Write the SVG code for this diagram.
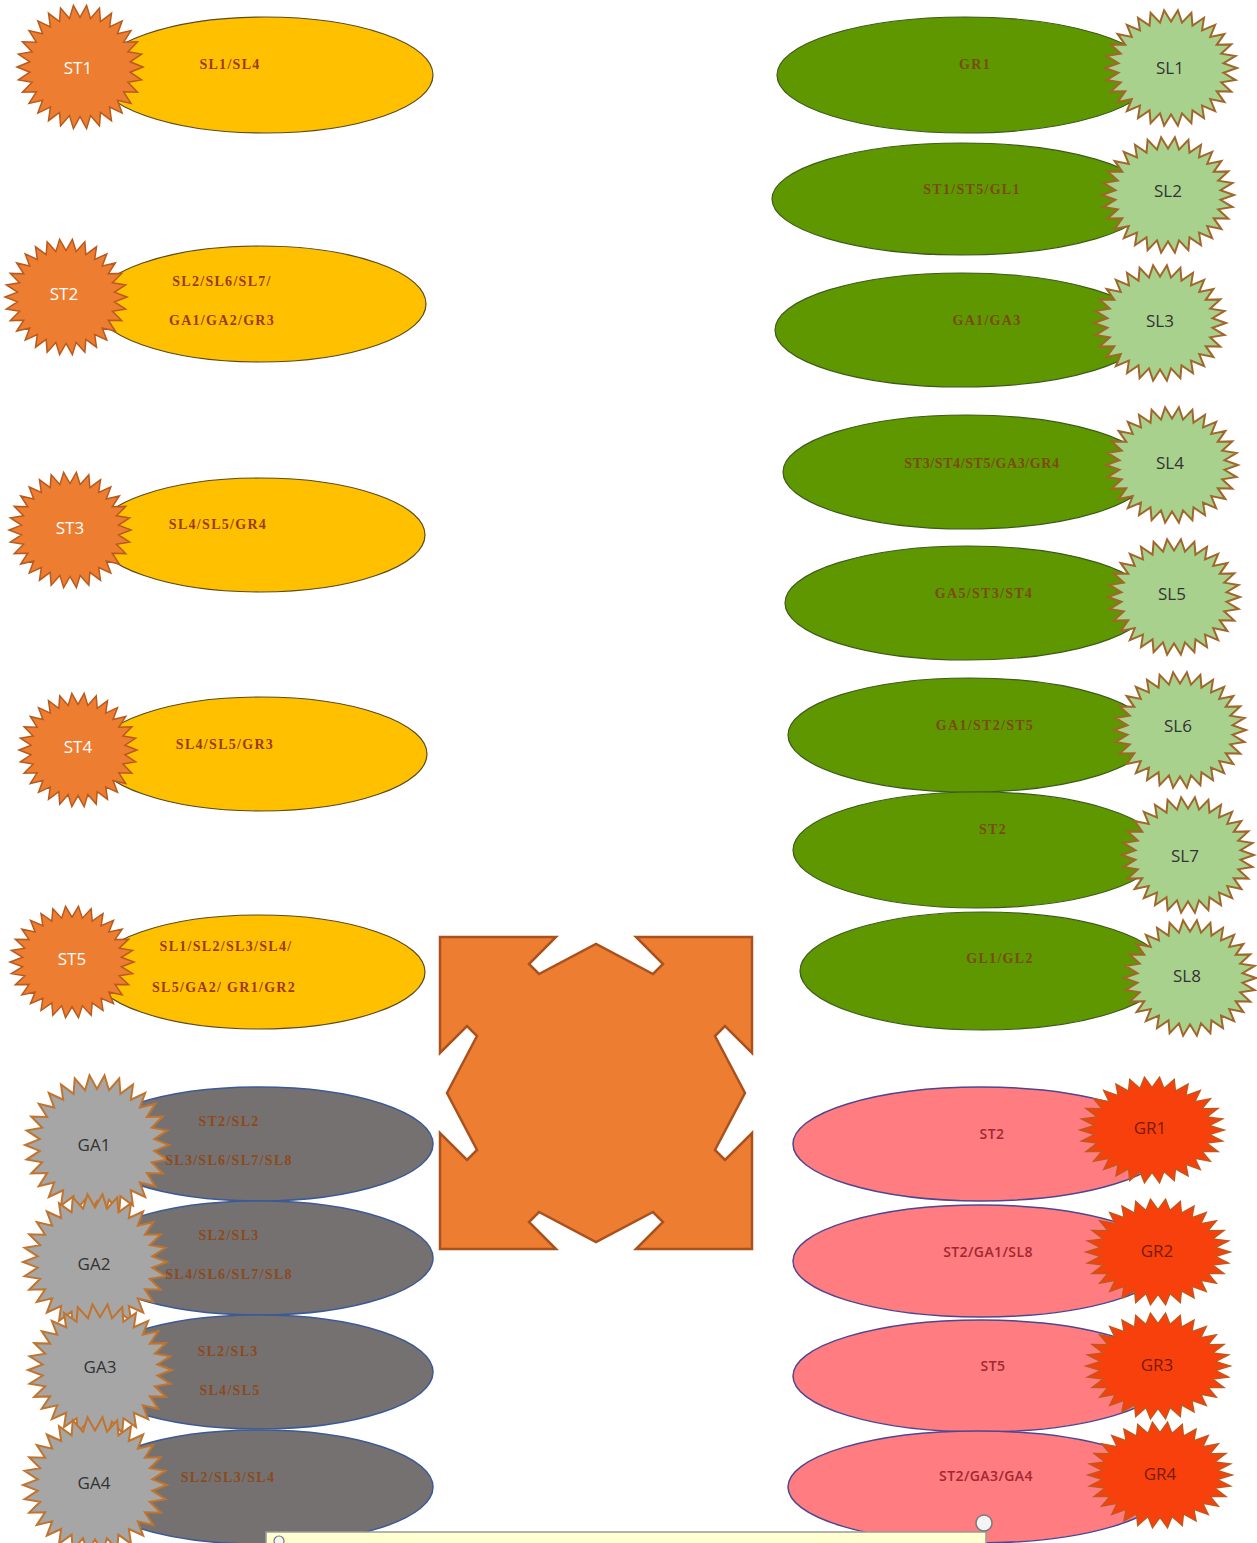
<svg xmlns="http://www.w3.org/2000/svg" xmlns:xlink="http://www.w3.org/1999/xlink" width="1257" height="1543" viewBox="0 0 1257 1543">
<style>
.ey{fill:#FFC000;stroke:#5a4a20;stroke-width:1.2}
.eg{fill:#5F9700;stroke:#3d5a1a;stroke-width:1.2}
.ea{fill:#767171;stroke:#3c5a96;stroke-width:1.5}
.ep{fill:#FF7C80;stroke:#4e4690;stroke-width:1.5}
.so{fill:#ED7D31;stroke:#B85A1E;stroke-width:1.5}
.sa{fill:#A6A6A6;stroke:#C0742E;stroke-width:2}
.sg{fill:#A9D18E;stroke:#A0662A;stroke-width:2}
.sr{fill:#F8400C;stroke:#C5561A;stroke-width:1.5}
.t{font-family:"Liberation Serif",serif;font-weight:bold;font-size:14px;letter-spacing:1.3px;text-anchor:middle;dominant-baseline:central}
.ty{fill:#9C3A18}
.tg{fill:#7A4A12}
.ta{fill:#8A4A1E}
.tp{fill:#A02830;font-family:"Open Sans",sans-serif;font-weight:600;font-size:14px;letter-spacing:0.4px}
.l{font-family:"Open Sans","Liberation Sans",sans-serif;font-size:17px;text-anchor:middle;dominant-baseline:central}
.lw{fill:#ffffff}
.ld{fill:#333333}
.lr{fill:#7A1A08}
</style>
<defs>
<polygon id="star" vector-effect="non-scaling-stroke" points="100,0 79.56,8.36 97.82,20.79 76.08,24.72 91.36,40.67 69.28,40 80.9,58.78 59.45,53.53 66.91,74.31 47.02,64.72 50,86.6 32.54,73.08 30.9,95.11 16.63,78.25 10.45,99.45 0,80 -10.45,99.45 -16.63,78.25 -30.9,95.11 -32.54,73.08 -50,86.6 -47.02,64.72 -66.91,74.31 -59.45,53.53 -80.9,58.78 -69.28,40 -91.36,40.67 -76.08,24.72 -97.82,20.79 -79.56,8.36 -100,0 -79.56,-8.36 -97.82,-20.79 -76.08,-24.72 -91.36,-40.67 -69.28,-40 -80.9,-58.78 -59.45,-53.53 -66.91,-74.31 -47.02,-64.72 -50,-86.6 -32.54,-73.08 -30.9,-95.11 -16.63,-78.25 -10.45,-99.45 0,-80 10.45,-99.45 16.63,-78.25 30.9,-95.11 32.54,-73.08 50,-86.6 47.02,-64.72 66.91,-74.31 59.45,-53.53 80.9,-58.78 69.28,-40 91.36,-40.67 76.08,-24.72 97.82,-20.79 79.56,-8.36"/>
</defs>
<rect width="1257" height="1543" fill="#ffffff"/>

<!-- left: ST -->
<g id="ST1"><ellipse class="ey" cx="265" cy="75" rx="168" ry="58"/><use href="#star" class="so" transform="translate(80,67) scale(0.63,0.62)"/><text class="l lw" x="78" y="67">ST1</text><text class="t ty" x="230" y="64">SL1/SL4</text></g>
<g id="ST2"><ellipse class="ey" cx="260" cy="304" rx="166" ry="58"/><use href="#star" class="so" transform="translate(66,297) scale(0.61,0.58)"/><text class="l lw" x="64" y="293">ST2</text><text class="t ty" x="222" y="281">SL2/SL6/SL7/</text><text class="t ty" x="222" y="320">GA1/GA2/GR3</text></g>
<g id="ST3"><ellipse class="ey" cx="260" cy="535" rx="165" ry="57"/><use href="#star" class="so" transform="translate(70,530) scale(0.61,0.58)"/><text class="l lw" x="70" y="527">ST3</text><text class="t ty" x="218" y="524">SL4/SL5/GR4</text></g>
<g id="ST4"><ellipse class="ey" cx="261" cy="754" rx="166" ry="57"/><use href="#star" class="so" transform="translate(78,750) scale(0.59,0.57)"/><text class="l lw" x="78" y="746">ST4</text><text class="t ty" x="225" y="744">SL4/SL5/GR3</text></g>
<g id="ST5"><ellipse class="ey" cx="259" cy="972" rx="166" ry="57"/><use href="#star" class="so" transform="translate(72,962) scale(0.62,0.56)"/><text class="l lw" x="72" y="958">ST5</text><text class="t ty" x="226" y="946">SL1/SL2/SL3/SL4/</text><text class="t ty" x="224" y="987">SL5/GA2/ GR1/GR2</text></g>

<!-- left: GA -->
<g id="GA1"><ellipse class="ea" cx="259" cy="1144" rx="174" ry="57"/><use href="#star" class="sa" transform="translate(97,1145) scale(0.72,0.7)"/><text class="l ld" x="94" y="1144">GA1</text><text class="t ta" x="229" y="1121">ST2/SL2</text><text class="t ta" x="229" y="1160">SL3/SL6/SL7/SL8</text></g>
<g id="GA2"><ellipse class="ea" cx="259" cy="1258" rx="174" ry="57"/><use href="#star" class="sa" transform="translate(95,1262) scale(0.72,0.68)"/><text class="l ld" x="94" y="1263">GA2</text><text class="t ta" x="229" y="1235">SL2/SL3</text><text class="t ta" x="229" y="1274">SL4/SL6/SL7/SL8</text></g>
<g id="GA3"><ellipse class="ea" cx="259" cy="1372" rx="174" ry="57"/><use href="#star" class="sa" transform="translate(100,1370) scale(0.72,0.66)"/><text class="l ld" x="100" y="1366">GA3</text><text class="t ta" x="228" y="1351">SL2/SL3</text><text class="t ta" x="230" y="1390">SL4/SL5</text></g>
<g id="GA4"><ellipse class="ea" cx="259" cy="1487" rx="174" ry="57"/><use href="#star" class="sa" transform="translate(95,1485) scale(0.72,0.68)"/><text class="l ld" x="94" y="1482">GA4</text><text class="t ta" x="228" y="1477">SL2/SL3/SL4</text></g>

<!-- right: SL -->
<g id="SL1"><ellipse class="eg" cx="965" cy="75" rx="188" ry="58"/><use href="#star" class="sg" transform="translate(1171,68) scale(0.66,0.58)"/><text class="l ld" x="1170" y="67">SL1</text><text class="t tg" x="975" y="64">GR1</text></g>
<g id="SL2"><ellipse class="eg" cx="962" cy="199" rx="190" ry="56"/><use href="#star" class="sg" transform="translate(1168,195) scale(0.66,0.58)"/><text class="l ld" x="1168" y="190">SL2</text><text class="t tg" x="972" y="189">ST1/ST5/GL1</text></g>
<g id="SL3"><ellipse class="eg" cx="962" cy="330" rx="187" ry="57"/><use href="#star" class="sg" transform="translate(1160,323) scale(0.66,0.58)"/><text class="l ld" x="1160" y="320">SL3</text><text class="t tg" x="987" y="320">GA1/GA3</text></g>
<g id="SL4"><ellipse class="eg" cx="967" cy="472" rx="184" ry="57"/><use href="#star" class="sg" transform="translate(1172,465) scale(0.66,0.58)"/><text class="l ld" x="1170" y="462">SL4</text><text class="t tg" x="982" y="463" style="letter-spacing:0.6px">ST3/ST4/ST5/GA3/GR4</text></g>
<g id="SL5"><ellipse class="eg" cx="968" cy="603" rx="183" ry="57"/><use href="#star" class="sg" transform="translate(1174,597) scale(0.66,0.58)"/><text class="l ld" x="1172" y="593">SL5</text><text class="t tg" x="984" y="593">GA5/ST3/ST4</text></g>
<g id="SL6"><ellipse class="eg" cx="970" cy="735" rx="182" ry="57"/><use href="#star" class="sg" transform="translate(1180,730) scale(0.66,0.58)"/><text class="l ld" x="1178" y="725">SL6</text><text class="t tg" x="985" y="725">GA1/ST2/ST5</text></g>
<g id="SL7"><ellipse class="eg" cx="977" cy="850" rx="184" ry="58"/><use href="#star" class="sg" transform="translate(1188,855) scale(0.66,0.58)"/><text class="l ld" x="1185" y="855">SL7</text><text class="t tg" x="993" y="829">ST2</text></g>
<g id="SL8"><ellipse class="eg" cx="983" cy="971" rx="183" ry="59"/><use href="#star" class="sg" transform="translate(1190,978) scale(0.66,0.58)"/><text class="l ld" x="1187" y="975">SL8</text><text class="t tg" x="1000" y="958">GL1/GL2</text></g>

<!-- right: GR -->
<g id="GR1"><ellipse class="ep" cx="981" cy="1144" rx="188" ry="57"/><use href="#star" class="sr" transform="translate(1152,1130) scale(0.72,0.53)"/><text class="l lr" x="1150" y="1127">GR1</text><text class="t tp" x="992" y="1133">ST2</text></g>
<g id="GR2"><ellipse class="ep" cx="981" cy="1261" rx="188" ry="56"/><use href="#star" class="sr" transform="translate(1158,1252) scale(0.72,0.53)"/><text class="l lr" x="1157" y="1250">GR2</text><text class="t tp" x="988" y="1251">ST2/GA1/SL8</text></g>
<g id="GR3"><ellipse class="ep" cx="981" cy="1376" rx="188" ry="56"/><use href="#star" class="sr" transform="translate(1158,1366) scale(0.72,0.53)"/><text class="l lr" x="1157" y="1364">GR3</text><text class="t tp" x="993" y="1365">ST5</text></g>
<g id="GR4"><ellipse class="ep" cx="978" cy="1487" rx="190" ry="56"/><use href="#star" class="sr" transform="translate(1160,1475) scale(0.72,0.53)"/><text class="l lr" x="1160" y="1473">GR4</text><text class="t tp" x="986" y="1475">ST2/GA3/GA4</text></g>

<!-- central shape -->
<g id="center">
<polygon fill="#ED7D31" stroke="#A9521F" stroke-width="2.5" stroke-linejoin="miter" transform="translate(596,1093)" points="-156,-156 -40,-156 -67,-129 -57,-119 0,-149 57,-119 67,-129 40,-156 156,-156 156,-40 129,-67 119,-57 149,0 119,57 129,67 156,40 156,156 40,156 67,129 57,119 0,149 -57,119 -67,129 -40,156 -156,156 -156,40 -129,67 -119,57 -149,0 -119,-57 -129,-67 -156,-40"/>
</g>

<g id="connectors"></g>

<!-- bottom bar -->
<g id="bar">
<rect x="266" y="1532" width="720" height="14" fill="#FFFFD0" stroke="#9a9a9a" stroke-width="1.5"/>
<circle cx="984" cy="1523" r="8" fill="#f4f4f4" stroke="#7a7a7a" stroke-width="1.5"/>
<circle cx="279" cy="1541" r="5" fill="#f4f4f4" stroke="#7a7a7a" stroke-width="1.2"/>
</g>
</svg>
